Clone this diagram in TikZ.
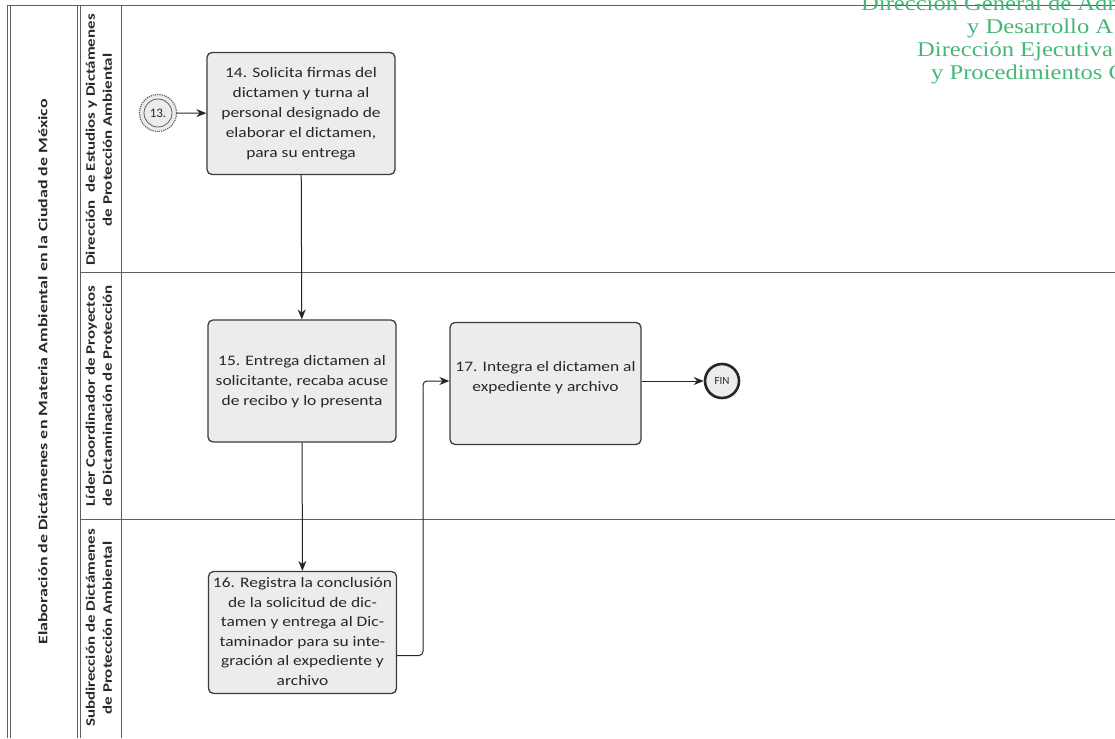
\documentclass[tikz,border=0pt]{standalone}
\usepackage{fontspec}
\setmainfont{Carlito}
\newfontfamily\stampfont{Liberation Serif}
\usetikzlibrary{arrows.meta,calc}
\definecolor{frame}{RGB}{95,95,95}
\definecolor{boxfill}{RGB}{236,236,236}
\definecolor{boxline}{RGB}{60,60,60}
\definecolor{ink}{RGB}{40,40,40}
\definecolor{stamp}{RGB}{70,182,120}
% centred block of lines, widened along the reading direction
\newcommand{\widelines}[2]{\scalebox{#1}[1]{\begin{tabular}{@{}c@{}}#2\end{tabular}}}
\tikzset{
  lanerule/.style={draw=frame, line width=1pt},
  task/.style={draw=boxline, fill=boxfill, line width=1.3pt, rounded corners=5pt,
    minimum width=188pt, minimum height=122pt, align=center, text=ink,
    font=\fontsize{14.5}{20}\selectfont, inner sep=2pt},
  flow/.style={draw=black!85, line width=1pt, -{Stealth[length=10pt,width=8pt]}, rounded corners=4pt},
  lanelabel/.style={rotate=90, align=center, text=ink, inner sep=0pt,
    font=\bfseries\fontsize{13}{17}\selectfont},
  stampline/.style={anchor=base west, text=stamp, inner sep=0pt,
    font=\stampfont\fontsize{21}{23}\selectfont}
}
\begin{document}
\begin{tikzpicture}[x=1pt, y=-1pt]
\useasboundingbox (0,0) rectangle (1115,738);

% pool frame and lanes
\draw[lanerule] (7,6) -- (1115,6);
\draw[lanerule] (7,6) -- (7,738);
\draw[lanerule] (10,6) -- (10,738);
\draw[lanerule] (77,6) -- (77,738);
\draw[lanerule] (80,6) -- (80,738);
\draw[lanerule] (121,6) -- (121,738);
\draw[lanerule] (80,272) -- (1115,272);
\draw[lanerule] (80,519) -- (1115,519);

% pool title and lane names
\node[lanelabel] (pool) at (44,372) {\widelines{1.38}{Elaboración de Dictámenes en Materia Ambiental en la Ciudad de México}};
\node[lanelabel] (laneA) at (100,140) {\widelines{1.3}{Dirección \ de Estudios y Dictámenes\\de Protección Ambiental}};
\node[lanelabel] (laneB) at (100,396) {\widelines{1.3}{Líder Coordinador de Proyectos\\de Dictaminación de Protección}};
\node[lanelabel] (laneC) at (100,628) {\widelines{1.3}{Subdirección de Dictámenes\\de Protección Ambiental}};

% stamp text
\node[stampline] (s1) at (861,11) {\scalebox{1.17}[1]{Dirección General de Adm}};
\node[stampline] (s2) at (967,34) {\scalebox{1.17}[1]{y Desarrollo A}};
\node[stampline] (s3) at (917,57) {\scalebox{1.17}[1]{Dirección Ejecutiva}};
\node[stampline] (s4) at (931,80) {\scalebox{1.17}[1]{y Procedimientos C}};

% link event
\node[circle, draw=frame, fill=boxfill, line width=1.2pt, densely dotted, minimum size=37pt, inner sep=0pt] (e13) at (158,113) {};
\node[circle, draw=frame, line width=0.8pt, minimum size=28pt, inner sep=0pt, text=ink,
  font=\fontsize{13}{14}\selectfont] (e13in) at (158,113) {13.};

% tasks
\node[task] (t14) at (301,113.5) {\widelines{1.2}{14. Solicita firmas del\\dictamen y turna al\\personal designado de\\elaborar el dictamen,\\para su entrega}};
\node[task] (t15) at (302,381) {\widelines{1.2}{15. Entrega dictamen al\\solicitante, recaba acuse\\de recibo y lo presenta}};
\node[task, minimum width=191pt] (t17) at (545.5,383.5) {\widelines{1.2}{17. Integra el dictamen al\\expediente y archivo}\\[8pt]};
\node[task, font=\fontsize{14.5}{19.5}\selectfont] (t16) at (302.5,632.5) {\widelines{1.2}{16. Registra la conclusión\\de la solicitud de dic-\\tamen y entrega al Dic-\\taminador para su inte-\\gración al expediente y\\archivo}};

% end event
\node[circle, draw=black!85, fill=boxfill, line width=2.6pt, minimum size=34pt, inner sep=0pt, text=ink,
  font=\fontsize{11}{13}\selectfont] (fin) at (722,381) {FIN};

% sequence flows
\draw[flow] (e13) -- (t14);
\draw[flow] (t14) -- (t15);
\draw[flow] (t15) -- (t16);
\draw[flow] ([yshift=-23pt]t16.east) -| (423,381) -- (t17.west |- 0,381);
\draw[flow] (t17.east |- fin) -- (fin);
\end{tikzpicture}
\end{document}
